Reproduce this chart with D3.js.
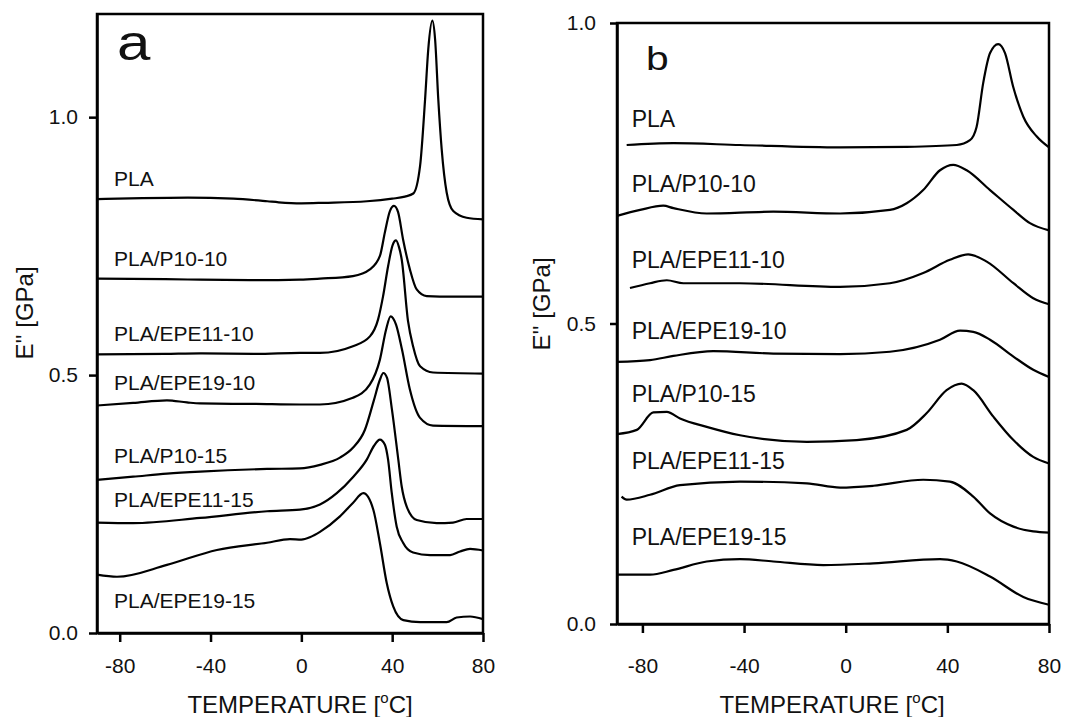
<!DOCTYPE html>
<html>
<head>
<meta charset="utf-8">
<script src="https://cdn.jsdelivr.net/npm/d3@7"></script>
<style>
    body { margin: 0; background: #fff; }
    text { font-family: "Liberation Sans", Arial, sans-serif; fill: #111; }
</style>
</head>
<body>
<svg id="vis"></svg>
<script>
const WIDTH = 1083;
const HEIGHT = 717;

// ticks
const TEMP_TICKS = [-80, -40, 0, 40, 80];
const E_TICKS = [0, 0.5, 1.0];

// nombres de las muestras (mismo orden en los dos paneles)
const NAMES = ["PLA", "PLA/P10-10", "PLA/EPE11-10", "PLA/EPE19-10", "PLA/P10-15", "PLA/EPE11-15", "PLA/EPE19-15"];

// panel a: [temperatura, E'']
const a_PLA = [[-90,0.841],[-70,0.843],[-50,0.844],[-30,0.842],[-15,0.837],[-10,0.835],[0,0.833],[10,0.834],[28.9,0.837],[40,0.842],[45.6,0.846],[49.3,0.852],[52.3,0.906],[54.5,1.035],[55.9,1.132],[57.7,1.187],[58.9,1.151],[60.3,1.035],[61.8,0.938],[64.0,0.854],[66.9,0.818],[72.8,0.805],[80,0.802]];
const a_P10_10 = [[-90,0.687],[-60,0.686],[-44.6,0.685],[-20,0.684],[-0.6,0.685],[8.2,0.687],[22.7,0.692],[30.2,0.705],[34.6,0.731],[36.8,0.777],[39.0,0.818],[40.8,0.828],[42.6,0.816],[44.8,0.763],[47.8,0.705],[50.8,0.666],[55.2,0.653],[66.8,0.652],[80,0.652]];
const a_EPE11_10 = [[-90,0.540],[-60,0.541],[-44.6,0.542],[-20,0.541],[-0.6,0.543],[8.2,0.543],[22.7,0.556],[30.2,0.575],[33.8,0.608],[36.0,0.653],[38.2,0.711],[40.2,0.752],[41.7,0.761],[43.0,0.748],[44.2,0.724],[47.0,0.604],[49.2,0.556],[52.3,0.517],[58.0,0.505],[80,0.503]];
const a_EPE19_10 = [[-90,0.441],[-74.1,0.446],[-59.2,0.451],[-50.4,0.447],[-44.6,0.445],[-20,0.444],[-0.6,0.443],[8.2,0.443],[22.7,0.456],[30.2,0.482],[34.6,0.530],[37.3,0.588],[39.3,0.614],[41.7,0.598],[44.3,0.550],[47.8,0.472],[52.3,0.417],[58.0,0.402],[80,0.401]];
const a_P10_15 = [[-90,0.297],[-74.1,0.303],[-59.2,0.309],[-44.6,0.313],[-15.1,0.318],[-0.6,0.319],[8.2,0.326],[17.0,0.340],[22.7,0.359],[28.0,0.394],[32.0,0.452],[34.6,0.491],[36.1,0.504],[37.7,0.495],[39.9,0.433],[42.7,0.336],[44.2,0.284],[46.4,0.245],[50.8,0.219],[59.6,0.213],[66.8,0.214],[72.8,0.221],[80,0.221]];
const a_EPE11_15 = [[-90,0.214],[-74.1,0.213],[-44.6,0.223],[-15.1,0.236],[-0.6,0.239],[8.2,0.249],[15.6,0.271],[22.9,0.303],[28.8,0.336],[32.0,0.363],[34.6,0.375],[36.8,0.365],[38.2,0.336],[39.8,0.272],[42.0,0.206],[44.8,0.175],[49.2,0.156],[56.7,0.151],[65.5,0.151],[69.9,0.158],[74.3,0.163],[80,0.160]];
const a_EPE19_15 = [[-90,0.113],[-81.2,0.109],[-59.2,0.132],[-37.2,0.161],[-15.1,0.175],[-5.0,0.182],[0,0.181],[4.0,0.186],[8.2,0.196],[17.0,0.226],[22.7,0.252],[27.3,0.271],[31.7,0.239],[34.6,0.174],[37.6,0.097],[40.5,0.051],[44.9,0.025],[52.3,0.021],[64.0,0.021],[68.4,0.030],[74.3,0.032],[80,0.027]];

// panel b
const b_PLA = [[-86.2,0.797],[-67.8,0.800],[-41.6,0.797],[-2.2,0.793],[24.0,0.794],[43.7,0.797],[48.9,0.805],[51.5,0.827],[54.1,0.900],[56.8,0.950],[60.0,0.965],[62.7,0.950],[65.9,0.894],[69.9,0.844],[75.2,0.811],[80,0.793]];
const b_P10_10 = [[-90,0.679],[-80.9,0.689],[-71.8,0.696],[-67.8,0.692],[-54.7,0.683],[-28.5,0.686],[-2.2,0.683],[17.4,0.689],[24.0,0.700],[30.5,0.722],[37.1,0.755],[42.3,0.764],[47.6,0.755],[56.8,0.722],[66.0,0.689],[72.5,0.667],[80,0.655]];
const b_EPE11_10 = [[-84.9,0.559],[-77.0,0.567],[-70.4,0.572],[-63.9,0.567],[-41.6,0.567],[-2.2,0.561],[17.4,0.567],[30.5,0.584],[41.0,0.606],[48.2,0.615],[55.5,0.603],[66.0,0.567],[73.8,0.542],[80,0.532]];
const b_EPE19_10 = [[-90,0.436],[-77.0,0.439],[-67.8,0.446],[-52.1,0.454],[-28.5,0.450],[-2.2,0.449],[17.4,0.453],[37.1,0.473],[45.0,0.488],[50.2,0.486],[56.8,0.473],[66.0,0.445],[73.8,0.423],[80,0.411]];
const b_P10_15 = [[-90,0.316],[-82.2,0.323],[-75.7,0.352],[-70.4,0.353],[-65.2,0.342],[-54.7,0.328],[-41.6,0.314],[-15.3,0.303],[4.3,0.306],[24.0,0.323],[31.9,0.351],[39.7,0.389],[45.6,0.400],[50.2,0.389],[58.1,0.345],[66.0,0.306],[73.8,0.278],[80,0.267]];
const b_EPE11_15 = [[-88.2,0.212],[-86.2,0.207],[-77.0,0.215],[-65.2,0.231],[-41.6,0.237],[-15.3,0.234],[-2.2,0.227],[10.9,0.230],[30.5,0.240],[41.0,0.237],[50.2,0.212],[56.8,0.184],[66.0,0.162],[73.8,0.154],[80,0.152]];
const b_EPE19_15 = [[-90,0.082],[-77.0,0.082],[-67.8,0.090],[-54.7,0.104],[-41.6,0.108],[-28.5,0.104],[-8.8,0.098],[10.9,0.101],[37.1,0.108],[43.7,0.104],[56.8,0.079],[69.9,0.045],[80,0.032]];

// altura (E'') donde va cada etiqueta
const LABEL_A = [0.867, 0.711, 0.566, 0.472, 0.330, 0.245, 0.049];
const LABEL_B = [0.827, 0.719, 0.592, 0.475, 0.370, 0.258, 0.131];

const svg = d3.select("#vis")
    .attr("width", WIDTH)
    .attr("height", HEIGHT);

svg.append("rect").attr("width", WIDTH).attr("height", HEIGHT).attr("fill", "#fff");

function drawPanel(p) {
    const escalaX = d3.scaleLinear().domain([-90, 80]).range([p.left, p.right]);
    const escalaY = d3.scaleLinear().domain([0, p.ymax]).range([p.bottom, p.top]);

    const g = svg.append("g");

    // marco
    g.append("rect")
        .attr("x", p.left)
        .attr("y", p.top)
        .attr("width", p.right - p.left)
        .attr("height", p.bottom - p.top)
        .attr("fill", "none")
        .attr("stroke", "#000")
        .attr("stroke-width", 2.5);

    const ejeY = d3.axisLeft(escalaY)
        .tickValues(E_TICKS)
        .tickFormat(d3.format(".1f"))
        .tickSize(p.ytick)
        .tickPadding(p.ypad)
        .tickSizeOuter(0);
    const ejeX = d3.axisBottom(escalaX)
        .tickValues(TEMP_TICKS)
        .tickFormat(d => String(d))
        .tickSize(9)
        .tickPadding(p.xpad)
        .tickSizeOuter(0);

    const gy = g.append("g").attr("transform", `translate(${p.left}, 0)`).call(ejeY);
    const gx = g.append("g").attr("transform", `translate(0, ${p.bottom})`).call(ejeX);
    [gx, gy].forEach(a => {
        a.attr("font-size", 21).attr("font-family", null);
        a.selectAll("path, line").attr("stroke", "#000").attr("stroke-width", 2.5);
    });

    const linea = d3.line()
        .x(d => escalaX(d[0]))
        .y(d => escalaY(d[1]))
        .curve(d3.curveMonotoneX);

    g.selectAll(".curva")
        .data(p.series)
        .join("path")
        .attr("class", "curva")
        .attr("d", linea)
        .attr("fill", "none")
        .attr("stroke", "#000")
        .attr("stroke-width", 2.2);

    g.selectAll(".nombre")
        .data(p.labels)
        .join("text")
        .attr("class", "nombre")
        .attr("x", escalaX(p.labelT))
        .attr("y", d => escalaY(d))
        .attr("font-size", p.labelSize)
        .text((d, i) => NAMES[i]);

    // letra del panel
    g.append("text")
        .attr("transform", `translate(${escalaX(p.letterPos[0])}, ${escalaY(p.letterPos[1])}) scale(1.2, 1)`)
        .attr("font-size", p.letterSize)
        .text(p.letter);

    // titulo eje x
    const t = g.append("text")
        .attr("x", p.xTitle)
        .attr("y", 713)
        .attr("text-anchor", "middle")
        .attr("font-size", 24);
    t.append("tspan").text("TEMPERATURE [");
    t.append("tspan").attr("font-size", 15).attr("dy", -10).text("o");
    t.append("tspan").attr("dy", 10).text("C]");

    // titulo eje y
    g.append("text")
        .attr("transform", `translate(${p.yTitle[0]}, ${p.yTitle[1]}) rotate(-90)`)
        .attr("text-anchor", "middle")
        .attr("font-size", 24)
        .text("E'' [GPa]");
}

drawPanel({
    left: 97, right: 483, top: 14, bottom: 633, ymax: 1.2,
    ytick: 8, ypad: 11, xpad: 16,
    series: [a_PLA, a_P10_10, a_EPE11_10, a_EPE19_10, a_P10_15, a_EPE11_15, a_EPE19_15],
    labels: LABEL_A, labelT: -82.5, labelSize: 21,
    letter: "a", letterPos: [-81.2, 1.111], letterSize: 50,
    xTitle: 300, yTitle: [33, 313]
});

drawPanel({
    left: 617, right: 1049, top: 23, bottom: 624, ymax: 1.0,
    ytick: 7, ypad: 14, xpad: 25,
    series: [b_PLA, b_P10_10, b_EPE11_10, b_EPE19_10, b_P10_15, b_EPE11_15, b_EPE19_15],
    labels: LABEL_B, labelT: -84.2, labelSize: 23,
    letter: "b", letterPos: [-78.6, 0.922], letterSize: 34,
    xTitle: 832, yTitle: [550, 304]
});
</script>
</body>
</html>
